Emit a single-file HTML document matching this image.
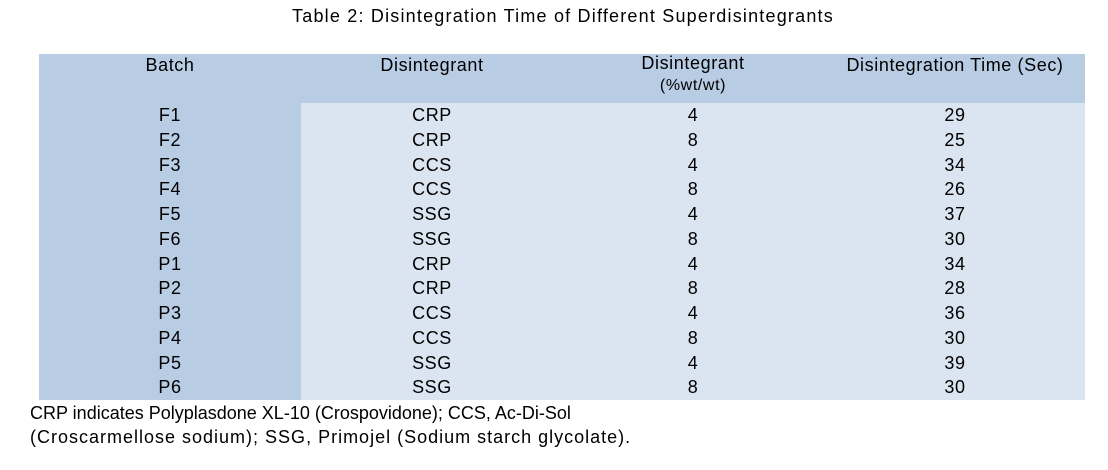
<!DOCTYPE html>
<html><head><style>
body{margin:0;width:1108px;height:470px;background:#fff;font-family:"Liberation Sans",sans-serif;color:#000;position:relative;overflow:hidden}
.t{position:absolute;white-space:nowrap}
.c{position:absolute;text-align:center;font-size:18px;line-height:24.75px;letter-spacing:0.6px}
</style></head><body>
<div class="t" style="left:0;width:1126px;text-align:center;top:6px;font-size:18px;letter-spacing:1.2px">Table 2: Disintegration Time of Different Superdisintegrants</div>
<div style="position:absolute;left:39px;top:54px;width:1046px;height:346px;background:#b8cce4"></div>
<div style="position:absolute;left:301px;top:103px;width:784px;height:297px;background:#dbe5f1"></div>
<div class="c" style="left:70px;width:200px;top:53px">Batch</div>
<div class="c" style="left:332px;width:200px;top:53px">Disintegrant</div>
<div class="c" style="left:593px;width:200px;top:53px;line-height:21px">Disintegrant<br><span style="font-size:16px">(%wt/wt)</span></div>
<div class="c" style="left:805px;width:300px;top:53px">Disintegration Time (Sec)</div>
<div class="c" style="left:70px;width:200px;top:103px">F1<br>F2<br>F3<br>F4<br>F5<br>F6<br>P1<br>P2<br>P3<br>P4<br>P5<br>P6</div>
<div class="c" style="left:332px;width:200px;top:103px">CRP<br>CRP<br>CCS<br>CCS<br>SSG<br>SSG<br>CRP<br>CRP<br>CCS<br>CCS<br>SSG<br>SSG</div>
<div class="c" style="left:593px;width:200px;top:103px">4<br>8<br>4<br>8<br>4<br>8<br>4<br>8<br>4<br>8<br>4<br>8</div>
<div class="c" style="left:855px;width:200px;top:103px">29<br>25<br>34<br>26<br>37<br>30<br>34<br>28<br>36<br>30<br>39<br>30</div>
<div class="t" style="left:30px;top:401px;font-size:18px;line-height:24px">CRP indicates Polyplasdone XL-10 (Crospovidone); CCS, Ac-Di-Sol<br><span style="letter-spacing:1px">(Croscarmellose sodium); SSG, Primojel (Sodium starch glycolate).</span></div>
</body></html>
